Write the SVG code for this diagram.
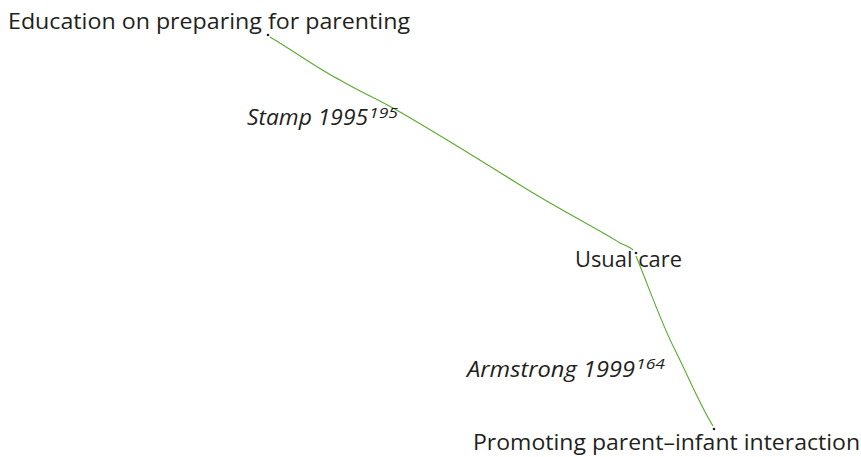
<svg xmlns="http://www.w3.org/2000/svg" width="861" height="457" viewBox="0 0 861 457">
<style>
text{font-family:"Open Sans","Noto Sans","Liberation Sans",sans-serif;font-size:21.5px;fill:#231f20}
.lbl{font-style:italic}
.sup{font-size:15px}
.edge{fill:none;stroke:#5aab2d;stroke-width:1.1}
.dot{fill:#231f20}
</style>
<rect width="861" height="457" fill="#fff"/>
<g id="connectors">
<path class="edge" d="M270,37 C300,55 320,70 340,80 C360,92 380,100 400,112 C440,135 480,160 520,185 C560,210 600,230 620,243 C626,246 630,247 633,250"/>
<path class="edge" d="M636,256 C650,290 660,320 675,350 C690,380 700,405 713,426"/>
</g>
<g id="n1"><circle class="dot" cx="268" cy="35" r="1.3"/><text x="8" y="29" textLength="402" lengthAdjust="spacingAndGlyphs">Education on preparing for parenting</text></g>
<g id="n2"><circle class="dot" cx="636" cy="253" r="1.3"/><text x="575" y="267" textLength="107" lengthAdjust="spacingAndGlyphs">Usual care</text></g>
<g id="n3"><circle class="dot" cx="714" cy="429" r="1.3"/><text x="473" y="450" textLength="387" lengthAdjust="spacingAndGlyphs">Promoting parent–infant interaction</text></g>
<g id="l1"><text class="lbl" x="247" y="125" textLength="121" lengthAdjust="spacingAndGlyphs">Stamp 1995</text><text class="lbl sup" x="369" y="118" textLength="29" lengthAdjust="spacingAndGlyphs">195</text></g>
<g id="l2"><text class="lbl" x="467" y="377" textLength="168" lengthAdjust="spacingAndGlyphs">Armstrong 1999</text><text class="lbl sup" x="636" y="369" textLength="29" lengthAdjust="spacingAndGlyphs">164</text></g>
</svg>
